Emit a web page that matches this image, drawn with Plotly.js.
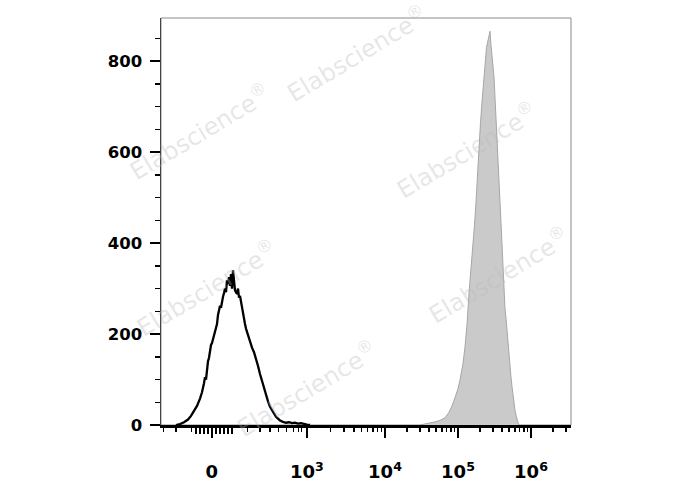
<!DOCTYPE html>
<html><head><meta charset="utf-8">
<script src="https://cdn.plot.ly/plotly-3.0.1.min.js"></script>
<style>html,body{margin:0;padding:0;background:#fff}#chart{width:688px;height:490px}</style>
</head><body><div id="chart"></div>
<script>
// x values are display channels of the biexponential axis (0 .. 1025)
const blackX = [37.5,47.5,57.5,67.5,75,82.5,90,97.5,102.5,107.5,110,112.5,115,117.5,120,122.5,125,127.5,130,132.5,135,137.5,140,142.5,145,147.5,150,152.5,155,157.5,160,162.5,165,167.5,170,172.5,175,177.5,180,182.5,185,187.5,190,192.5,195,197.5,200,202.5,205,207.5,210,212.5,215,217.5,222.5,227.5,232.5,237.5,242.5,247.5,252.5,257.5,262.5,267.5,272.5,277.5,282.5,287.5,292.5,297.5,305,312.5,320,327.5,335,342.5,350,357.5,365,372.5];
const blackY = [0,2,6,12,20,30,42,58,72,92,105,100,122,140,148,168,176,180,188,192,202,214,222,242,252,262,258,275,282,290,300,292,318,310,325,306,332,300,340,318,296,292,288,300,280,284,270,258,240,230,222,212,205,198,182,170,160,146,130,112,96,82,66,52,40,32,25,18,14,10,7,5,6,4,5,3,4,2,1,0];
const grayX = [647.5,667.5,685,697.5,710,720,727.5,735,742.5,747.5,755,760,765,770,775,780,783.75,787.5,791.25,795,798.75,802.5,806.25,810,812,813.75,817.5,820,822.5,825,827.5,830,832.5,835,837.5,840,842.5,845,847.5,850,852.5,855,857.5,860,862.5,865,867.5,870,872.5,875,877.5,880,882.5,885,887.5,890,892.5,895];
const grayY = [0,3,7,10,16,28,42,60,80,99,135,172,220,290,340,390,440,490,560,615,665,710,760,805,812,830,845,858,866,835,815,795,765,720,680,635,590,540,490,445,395,340,290,255,235,205,178,150,125,105,85,65,45,32,22,12,5,0];

const xMajorVals = [126.75, 364.5, 560, 742.5, 925];
const xMajorText = ['0', '10<sup>3</sup>', '10<sup>4</sup>', '10<sup>5</sup>', '10<sup>6</sup>'];
const xNearZeroTicks = [86.75, 96.75, 106.75, 116.75, 136.75, 146.75, 156.75, 166.75, 176.75];
const xLinearMinor = [6, 37.75, 76, 215.75, 247.5, 272.5, 293.25, 314.25, 330.75, 343.25, 351.75];
const decadeStarts = [364.5, 560, 742.5, 925];
const decadeWidths = [195.5, 182.5, 182.5, 182.5];
const yTicks = [0, 200, 400, 600, 800];
const watermarkPos = [[0.478,0.915],[0.095,0.722],[0.744,0.676],[0.110,0.337],[0.822,0.369],[0.356,0.091]];

const xMinor = xLinearMinor.slice();
decadeStarts.forEach((s, i) => {
  for (let k = 2; k <= 9; k++) {
    const v = s + decadeWidths[i] * Math.log10(k);
    if (v <= 1025) xMinor.push(v);
  }
});

const traces = [
  {x: grayX, y: grayY, type: 'scatter', mode: 'lines', fill: 'tozeroy',
   fillcolor: '#cacaca', line: {color: '#a6a6a6', width: 1}, hoverinfo: 'skip'},
  {x: blackX, y: blackY, type: 'scatter', mode: 'lines',
   line: {color: '#000', width: 2.3}, hoverinfo: 'skip'},
  {x: [], y: [], xaxis: 'x2', yaxis: 'y', type: 'scatter', mode: 'lines', hoverinfo: 'skip'}
];

const layout = {
  width: 688, height: 490,
  margin: {l: 161, r: 117, t: 18, b: 65},
  paper_bgcolor: '#fff', plot_bgcolor: '#fff',
  showlegend: false, hovermode: false,
  xaxis: {
    range: [0, 1025], tickmode: 'array',
    tickvals: xMajorVals, ticktext: xMajorText,
    ticks: 'outside', ticklen: 10, tickwidth: 2, tickcolor: '#000',
    showline: true, linecolor: '#000', linewidth: 2.5,
    showgrid: false, zeroline: false,
    tickfont: {family: 'DejaVu Sans', size: 18, weight: 'bold', color: '#000'},
    ticklabelstandoff: 19,
    minor: {tickmode: 'array', tickvals: xMinor, ticks: 'outside', ticklen: 4, tickwidth: 1.5, tickcolor: '#000', showgrid: false}
  },
  xaxis2: {
    overlaying: 'x', anchor: 'y', side: 'bottom', range: [0, 1025],
    tickmode: 'array', tickvals: xNearZeroTicks, showticklabels: false,
    ticks: 'outside', ticklen: 8, tickwidth: 2.2, tickcolor: '#000',
    showline: false, showgrid: false, zeroline: false
  },
  yaxis: {
    range: [0, 895], tickmode: 'array', tickvals: yTicks,
    ticks: 'outside', ticklen: 10, tickwidth: 2, tickcolor: '#000',
    showline: true, linecolor: '#444', linewidth: 1.5,
    showgrid: false, zeroline: false,
    tickfont: {family: 'DejaVu Sans', size: 16.5, weight: 'bold', color: '#000'},
    ticklabelstandoff: 4,
    minor: {tick0: 0, dtick: 50, ticks: 'outside', ticklen: 5, tickwidth: 1.5, tickcolor: '#000', showgrid: false}
  },
  shapes: [{type: 'rect', xref: 'paper', yref: 'paper', x0: 0, x1: 1, y0: 0, y1: 1,
            line: {color: '#8a8a8a', width: 1}, layer: 'below'}],
  annotations: watermarkPos.map(p => ({
    xref: 'paper', yref: 'paper', x: p[0], y: p[1], xanchor: 'center', yanchor: 'middle',
    showarrow: false, text: 'Elabscience<sup>®</sup>', textangle: -31,
    font: {family: 'DejaVu Sans', size: 24, color: 'rgba(185,185,185,0.35)'}
  }))
};

Plotly.newPlot('chart', traces, layout, {displayModeBar: false, staticPlot: true});
</script>
</body></html>
